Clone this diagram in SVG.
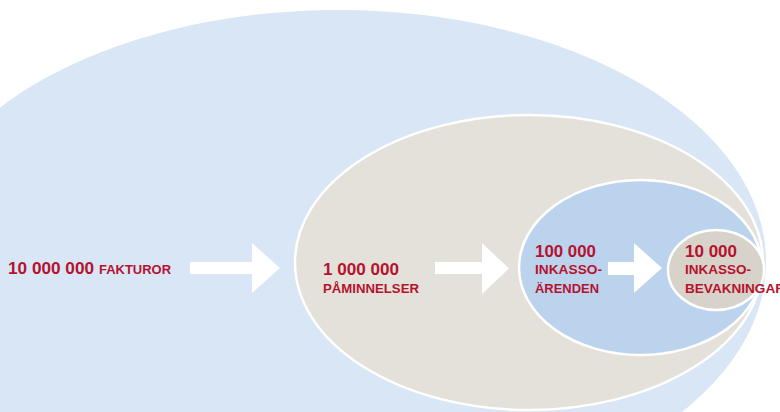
<svg xmlns="http://www.w3.org/2000/svg" width="780" height="412" viewBox="0 0 780 412">
<style>
.lbl{font-family:"Liberation Sans",Arial,sans-serif;font-weight:bold;fill:#b5122e}
.big{font-size:17px}
.sm{font-size:13.5px}
.ring{stroke:#ffffff;stroke-width:2.5}
.arrow{fill:#ffffff}
</style>
<rect width="780" height="412" fill="#ffffff"/>
<g id="node-fakturor">
<ellipse cx="338" cy="262" rx="428" ry="252" fill="#d9e6f6"/>
<text class="lbl" y="274"><tspan class="big" x="8" textLength="86" lengthAdjust="spacingAndGlyphs">10 000 000</tspan><tspan class="sm" x="99" textLength="72" lengthAdjust="spacingAndGlyphs">FAKTUROR</tspan></text>
</g>
<g id="node-paminnelser">
<ellipse class="ring" cx="529" cy="262.5" rx="234" ry="147.5" fill="#e4e1da"/>
<text class="lbl big" x="323" y="275" textLength="76" lengthAdjust="spacingAndGlyphs">1 000 000</text>
<text class="lbl sm" x="323" y="293" textLength="96" lengthAdjust="spacingAndGlyphs">PÅMINNELSER</text>
</g>
<g id="node-inkassoarenden">
<ellipse class="ring" cx="640.5" cy="267.5" rx="121.5" ry="87.5" fill="#bcd3ee"/>
<text class="lbl big" x="535" y="257" textLength="61" lengthAdjust="spacingAndGlyphs">100 000</text>
<text class="lbl sm" x="535" y="274" textLength="67" lengthAdjust="spacingAndGlyphs">INKASSO-</text>
<text class="lbl sm" x="535" y="293" textLength="64" lengthAdjust="spacingAndGlyphs">ÄRENDEN</text>
</g>
<g id="node-inkassobevakningar">
<ellipse class="ring" cx="716" cy="270" rx="48" ry="40" fill="#d8d3ca"/>
<text class="lbl big" x="685" y="257" textLength="52" lengthAdjust="spacingAndGlyphs">10 000</text>
<text class="lbl sm" x="685" y="274" textLength="66" lengthAdjust="spacingAndGlyphs">INKASSO-</text>
<text class="lbl sm" x="685" y="293" textLength="100" lengthAdjust="spacingAndGlyphs">BEVAKNINGAR</text>
</g>
<g id="connectors">
<polygon class="arrow" points="190,262 252,262 252,243 280,268 252,293 252,274 190,274"/>
<polygon class="arrow" points="435,262 482,262 482,243 509,268.5 482,294 482,274 435,274"/>
<polygon class="arrow" points="608,262 634,262 634,243 662,268 634,293 634,275 608,275"/>
</g>
</svg>
